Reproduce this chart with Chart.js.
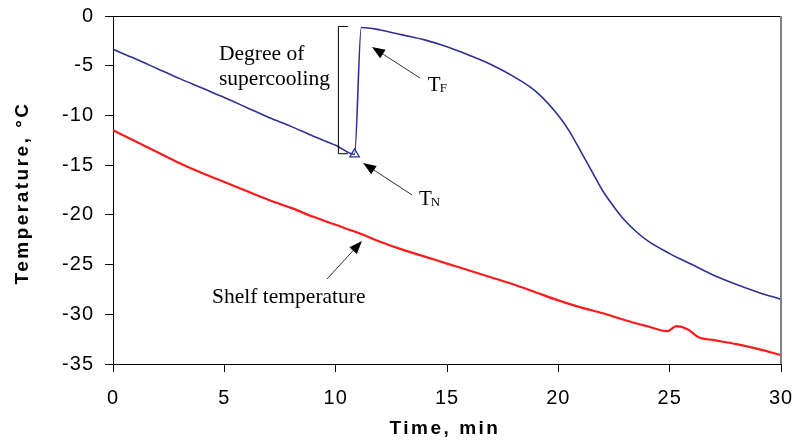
<!DOCTYPE html>
<html lang="en">
<head>
  <meta charset="UTF-8">
  <title>Product and shelf temperature</title>
  <script src="https://cdn.jsdelivr.net/npm/chart.js"></script>
  <style>
    body { margin: 0; background: #fff; }
  </style>
</head>
<body>
<canvas id="tempChart" width="796" height="442"></canvas>

<script>
  // product temperature (blue)
  const productTime = [0, 1, 2, 3, 4, 5, 6, 7, 8, 9, 10, 10.85, 11.15, 12, 13, 14, 15, 16, 17, 18, 19, 20, 20.5, 21, 21.5, 22, 22.5, 23, 23.5, 24, 25, 26, 27, 28, 29, 30];
  const productTemp = [-3.35, -4.3, -5.3, -6.3, -7.25, -8.2, -9.2, -10.2, -11.1, -12.1, -13.0, -13.9, -1.15, -1.4, -1.9, -2.4, -3.1, -3.95, -4.9, -6.1, -7.6, -10.0, -11.6, -13.6, -15.6, -17.6, -19.2, -20.6, -21.7, -22.6, -23.9, -25.0, -26.1, -27.0, -27.8, -28.5];

  // shelf temperature (red)
  const shelfTime = [0, 1, 2, 3, 4, 5, 6, 7, 8, 9, 10, 11, 12, 13, 14, 15, 16, 17, 18, 19, 20, 21, 22, 23, 24, 24.9, 25.3, 25.8, 26.3, 27, 28, 29, 30];
  const shelfTemp = [-11.5, -12.6, -13.7, -14.8, -15.8, -16.7, -17.6, -18.5, -19.3, -20.2, -21.0, -21.8, -22.7, -23.5, -24.2, -24.9, -25.6, -26.3, -27.0, -27.8, -28.6, -29.3, -29.9, -30.6, -31.2, -31.7, -31.2, -31.5, -32.3, -32.6, -33.0, -33.5, -34.1];

  // nucleation point marker
  const nucleationTime = [10.85];
  const nucleationTemp = [-13.9];

  const xTicks = [0, 5, 10, 15, 20, 25, 30];
  const yTicks = [0, -5, -10, -15, -20, -25, -30, -35];

  const blue = '#2e3192';
  const red = '#ff1a1a';

  function toPoints(xs, ys) {
    return xs.map((x, i) => ({ x: x, y: ys[i] }));
  }

  // annotations, placed in data units (min, °C)
  const notes = [
    { text: 'Degree of', x: 4.76, y: -3.9 },
    { text: 'supercooling', x: 4.76, y: -6.35 },
    { text: 'Shelf temperature', x: 4.45, y: -28.3 }
  ];
  const subNotes = [
    { main: 'T', sub: 'F', x: 14.14, y: -6.95 },
    { main: 'T', sub: 'N', x: 13.74, y: -18.5 }
  ];
  const arrows = [
    { from: [13.79, -6.24], to: [11.63, -3.12] },
    { from: [13.43, -18.0], to: [11.23, -14.78] },
    { from: [9.61, -26.45], to: [11.18, -22.63] }
  ];
  const bracket = { x: 10.1, xEnd: 10.55, top: -1.0, bottom: -13.8 };

  function drawArrow(ctx, x1, y1, x2, y2) {
    const ang = Math.atan2(y2 - y1, x2 - x1);
    const len = 13, half = 5;
    const bx = x2 - len * Math.cos(ang), by = y2 - len * Math.sin(ang);
    ctx.strokeStyle = '#333';
    ctx.lineWidth = 1;
    ctx.beginPath();
    ctx.moveTo(x1, y1);
    ctx.lineTo(bx, by);
    ctx.stroke();
    ctx.fillStyle = '#000';
    ctx.beginPath();
    ctx.moveTo(x2, y2);
    ctx.lineTo(bx + half * Math.sin(ang), by - half * Math.cos(ang));
    ctx.lineTo(bx - half * Math.sin(ang), by + half * Math.cos(ang));
    ctx.closePath();
    ctx.fill();
  }

  // the tick labels in the original are slightly spaced out
  const spacing = {
    id: 'spacing',
    beforeDraw(chart) {
      chart.ctx.letterSpacing = '1px';
    }
  };

  const decorations = {
    id: 'decorations',
    afterDraw(chart) {
      const ctx = chart.ctx;
      const xs = chart.scales.x, ys = chart.scales.y;
      const area = chart.chartArea;
      ctx.save();
      ctx.letterSpacing = '0px';

      // top frame line and grey right edge
      ctx.strokeStyle = '#000';
      ctx.lineWidth = 1;
      ctx.beginPath();
      ctx.moveTo(area.left, area.top + 0.5);
      ctx.lineTo(area.right, area.top + 0.5);
      ctx.stroke();
      ctx.strokeStyle = '#808080';
      ctx.lineWidth = 2;
      ctx.beginPath();
      ctx.moveTo(area.right, area.top);
      ctx.lineTo(area.right, area.bottom);
      ctx.stroke();

      // bracket for degree of supercooling
      const bxp = xs.getPixelForValue(bracket.x);
      const bxe = xs.getPixelForValue(bracket.xEnd);
      const byt = ys.getPixelForValue(bracket.top);
      const byb = ys.getPixelForValue(bracket.bottom);
      ctx.strokeStyle = '#000';
      ctx.lineWidth = 1;
      ctx.beginPath();
      ctx.moveTo(bxe, byt + 0.5);
      ctx.lineTo(bxp + 0.5, byt + 0.5);
      ctx.lineTo(bxp + 0.5, byb + 0.5);
      ctx.lineTo(bxe, byb + 0.5);
      ctx.stroke();

      arrows.forEach(a => {
        drawArrow(ctx,
          xs.getPixelForValue(a.from[0]), ys.getPixelForValue(a.from[1]),
          xs.getPixelForValue(a.to[0]), ys.getPixelForValue(a.to[1]));
      });

      ctx.fillStyle = '#000';
      ctx.textBaseline = 'middle';
      ctx.textAlign = 'left';
      ctx.font = '21.5px "Liberation Serif", "Times New Roman", serif';
      notes.forEach(n => {
        ctx.fillText(n.text, xs.getPixelForValue(n.x), ys.getPixelForValue(n.y));
      });
      subNotes.forEach(n => {
        const px = xs.getPixelForValue(n.x), py = ys.getPixelForValue(n.y);
        ctx.font = '21px "Liberation Serif", "Times New Roman", serif';
        ctx.fillText(n.main, px, py);
        const w = ctx.measureText(n.main).width;
        ctx.font = '13px "Liberation Serif", "Times New Roman", serif';
        ctx.fillText(n.sub, px + w - 1, py + 3);
      });

      // axis titles
      ctx.font = 'bold 19px "Liberation Sans", Arial, sans-serif';
      ctx.letterSpacing = '2.5px';
      ctx.textAlign = 'center';
      ctx.fillText('Time, min', 445, 429);
      ctx.translate(23, 193);
      ctx.rotate(-Math.PI / 2);
      ctx.fillText('Temperature, °C', 0, 0);
      ctx.restore();
    }
  };

  const tickFont = { family: '"Liberation Sans", Arial, sans-serif', size: 20 };

  new Chart(document.getElementById('tempChart'), {
    type: 'scatter',
    data: {
      datasets: [
        {
          label: 'Product temperature',
          data: toPoints(productTime, productTemp),
          showLine: true,
          borderColor: blue,
          borderWidth: 1.6,
          pointRadius: 0,
          cubicInterpolationMode: 'monotone'
        },
        {
          label: 'Shelf temperature',
          data: toPoints(shelfTime, shelfTemp),
          showLine: true,
          borderColor: red,
          borderWidth: 2.2,
          pointRadius: 0,
          cubicInterpolationMode: 'monotone'
        },
        {
          label: 'Nucleation',
          data: toPoints(nucleationTime, nucleationTemp),
          pointStyle: 'triangle',
          pointRadius: 5.5,
          borderColor: blue,
          borderWidth: 1.3,
          backgroundColor: 'rgba(255,255,255,0)'
        }
      ]
    },
    options: {
      responsive: false,
      animation: false,
      layout: { padding: { top: 16, right: 15, left: 0, bottom: 0 } },
      plugins: {
        legend: { display: false },
        tooltip: { enabled: false }
      },
      scales: {
        x: {
          type: 'linear',
          min: 0,
          max: 30,
          afterFit: s => { s.height = 78; s.paddingLeft = 0; s.paddingRight = 0; },
          afterBuildTicks: s => { s.ticks = xTicks.map(v => ({ value: v })); },
          ticks: { color: '#000', font: tickFont, padding: 14, maxRotation: 0 },
          grid: { drawOnChartArea: false, drawTicks: true, tickLength: 8, color: '#000' },
          border: { color: '#000', width: 1 }
        },
        y: {
          min: -35,
          max: 0,
          afterFit: s => { s.width = 113; s.paddingTop = 0; s.paddingBottom = 0; },
          afterBuildTicks: s => { s.ticks = yTicks.map(v => ({ value: v })); },
          ticks: { color: '#000', font: tickFont, padding: 11 },
          grid: { drawOnChartArea: false, drawTicks: true, tickLength: 8, color: '#000' },
          border: { color: '#000', width: 1 }
        }
      }
    },
    plugins: [spacing, decorations]
  });
</script>
</body>
</html>
